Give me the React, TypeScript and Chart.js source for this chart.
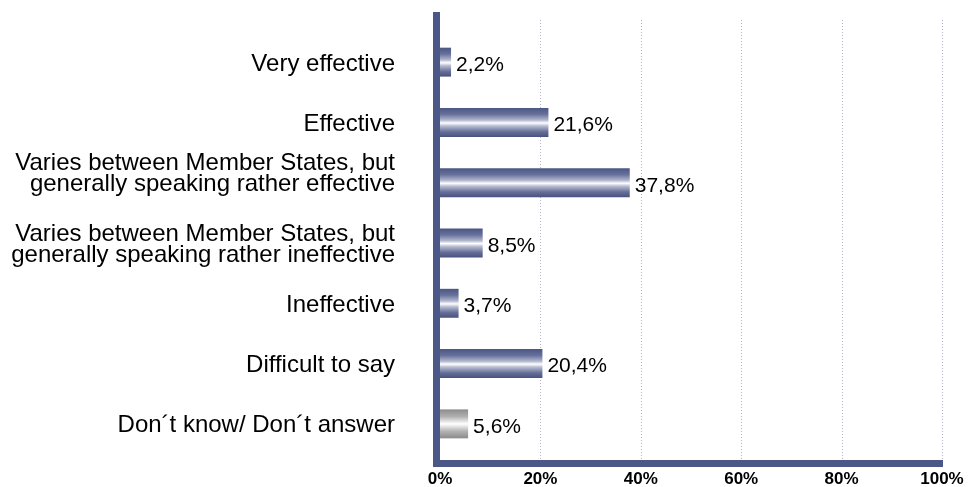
import React, { useEffect, useRef } from "react";
import { Chart, registerables } from "chart.js";

Chart.register(...registerables);

const categories: (string | string[])[] = [
  "Very effective",
  "Effective",
  ["Varies between Member States, but", "generally speaking rather effective", ""],
  ["Varies between Member States, but", "generally speaking rather ineffective"],
  "Ineffective",
  "Difficult to say",
  "Don´t know/ Don´t answer",
];
const values: number[] = [2.2, 21.6, 37.8, 8.5, 3.7, 20.4, 5.6];
const grayFlags: boolean[] = [false, false, false, false, false, false, true];
const xTicks: number[] = [0, 20, 40, 60, 80, 100];

const FONT = "'Liberation Sans', Arial, sans-serif";
const AXIS_COLOR = "#4a5787";
const BAR_FRACTION = 0.48;

function fmt(v: number) {
  return v.toFixed(1).replace(".", ",") + "%";
}

export default function App() {
  const ref = useRef<HTMLCanvasElement | null>(null);

  useEffect(() => {
    if (!ref.current) return;

    const decorPlugin = {
      id: "decor",
      beforeDatasetsDraw(chart: any) {
        const { ctx, chartArea, scales } = chart;
        ctx.save();
        ctx.strokeStyle = "#aeb2ca";
        ctx.lineWidth = 1;
        ctx.setLineDash([1, 2]);
        xTicks.forEach((t) => {
          if (t === 0) return;
          const x = Math.round(scales.x.getPixelForValue(t)) + 0.5;
          ctx.beginPath();
          ctx.moveTo(x, chartArea.top - 12);
          ctx.lineTo(x, chartArea.bottom + 6);
          ctx.stroke();
        });
        ctx.restore();
      },
      afterDatasetsDraw(chart: any) {
        const { ctx } = chart;
        const meta = chart.getDatasetMeta(0);
        ctx.save();
        ctx.font = `21px ${FONT}`;
        ctx.fillStyle = "#000";
        ctx.textAlign = "left";
        ctx.textBaseline = "middle";
        meta.data.forEach((el: any, i: number) => {
          ctx.fillText(fmt(values[i]), el.x + 5, el.y + 3);
        });
        ctx.restore();
      },
      afterDraw(chart: any) {
        const { ctx, chartArea, scales } = chart;
        ctx.save();
        ctx.fillStyle = AXIS_COLOR;
        const left = chartArea.left;
        const right = scales.x.getPixelForValue(100) + 1;
        const top = chartArea.top - 20;
        const hy = chartArea.bottom + 6;
        ctx.fillRect(left - 7, top, 7, hy + 7 - top);
        ctx.fillRect(left - 7, hy, right - left + 7, 7);
        ctx.restore();
      },
    };

    const makeGradient = (c: any) => {
      const chart = c.chart;
      const ys = chart.scales?.y;
      if (!ys || !chart.chartArea) return "#4a5787";
      const i = c.dataIndex;
      const yc = ys.getPixelForValue(i);
      const step = Math.abs(ys.getPixelForValue(1) - ys.getPixelForValue(0));
      const h = step * BAR_FRACTION;
      const g = chart.ctx.createLinearGradient(0, yc - h / 2, 0, yc + h / 2);
      if (grayFlags[i]) {
        g.addColorStop(0, "#8c8c8c");
        g.addColorStop(0.25, "#b0b0b0");
        g.addColorStop(0.5, "#ffffff");
        g.addColorStop(0.75, "#b4b4b4");
        g.addColorStop(1, "#8a8a8a");
      } else {
        g.addColorStop(0, "#4b5683");
        g.addColorStop(0.22, "#67719b");
        g.addColorStop(0.42, "#b2b7cf");
        g.addColorStop(0.52, "#ffffff");
        g.addColorStop(0.62, "#b8bdd2");
        g.addColorStop(0.82, "#656f98");
        g.addColorStop(1, "#48527e");
      }
      return g;
    };

    const chart = new Chart(ref.current, {
      type: "bar",
      data: {
        labels: categories,
        datasets: [
          {
            data: values,
            backgroundColor: makeGradient,
            borderWidth: 0,
            barPercentage: BAR_FRACTION,
            categoryPercentage: 1,
          },
        ],
      },
      options: {
        indexAxis: "y",
        animation: false,
        responsive: true,
        maintainAspectRatio: false,
        layout: { padding: { top: 32, right: 31, bottom: 0, left: 0 } },
        plugins: {
          legend: { display: false },
          tooltip: { enabled: false },
        },
        scales: {
          x: {
            min: 0,
            max: 100,
            grid: { display: false, drawTicks: true, tickLength: 15 },
            border: { display: false },
            afterBuildTicks: (scale: any) => {
              scale.ticks = xTicks.map((v) => ({ value: v }));
            },
            afterFit: (scale: any) => {
              scale.height = 33;
            },
            ticks: {
              padding: 0,
              autoSkip: false,
              maxRotation: 0,
              color: "#000",
              font: { family: FONT, size: 17, weight: "bold" },
              callback: (v: any) => `${v}%`,
            },
          },
          y: {
            grid: { display: false, drawTicks: true, tickLength: 45 },
            border: { display: false },
            afterFit: (scale: any) => {
              scale.width = 440;
            },
            ticks: {
              padding: 0,
              autoSkip: false,
              labelOffset: 2,
              color: "#000",
              font: { family: FONT, size: 24, lineHeight: 0.9 },
            },
          },
        },
      },
      plugins: [decorPlugin],
    });

    return () => chart.destroy();
  }, []);

  return (
    <div style={{ position: "absolute", left: 0, top: 0, width: 973, height: 487, background: "#fff" }}>
      <canvas ref={ref} />
    </div>
  );
}
